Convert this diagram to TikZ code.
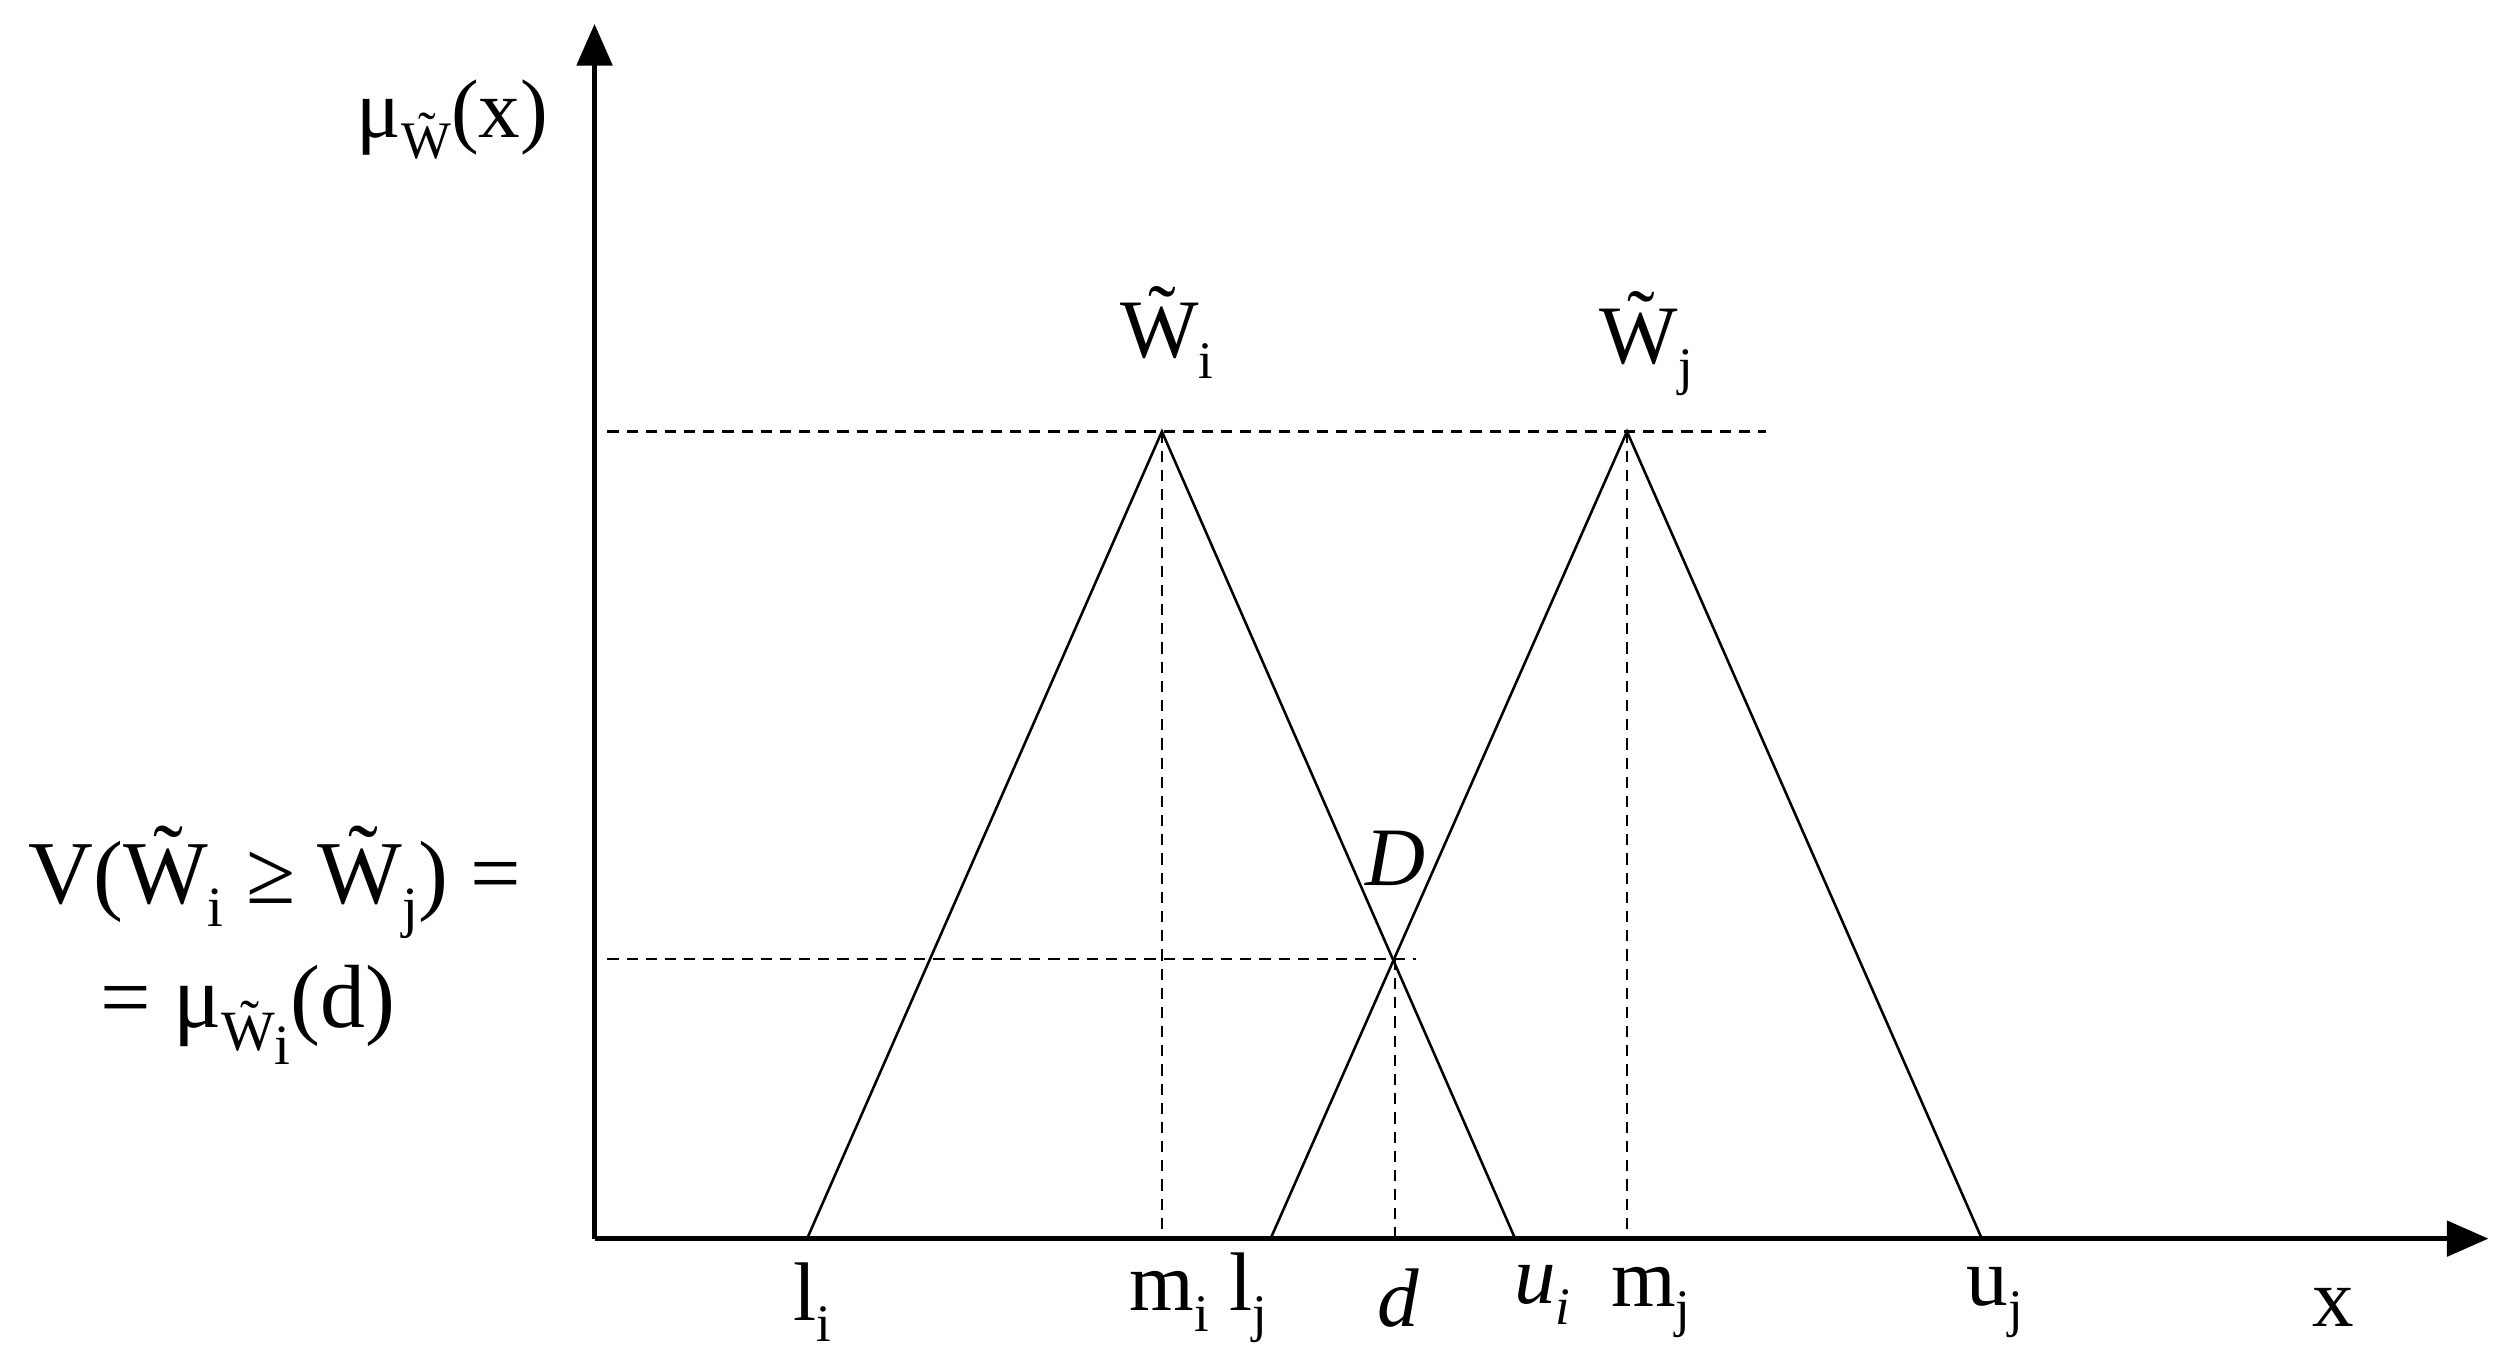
\documentclass[tikz,border=0pt]{standalone}
\usepackage{fontspec}
\setmainfont{Liberation Serif}
\usetikzlibrary{arrows.meta}
\newcommand{\Wt}{\~{W}}
\newcommand{\sbs}[1]{\raisebox{-0.25em}{\fontsize{33}{37}\selectfont #1}}
\begin{document}
\begin{tikzpicture}[x=1pt,y=-1pt,
  lab/.style={font=\fontsize{52}{60}\selectfont, inner sep=0pt},
  dsh/.style={dashed, line width=1.3pt, dash pattern=on 7pt off 5pt},
  tri/.style={line width=1.6pt},
  ax/.style={line width=3pt,-{Triangle[length=26pt,width=22pt]}}]
\useasboundingbox (0,0) rectangle (1568,858);
\coordinate (O) at (372,775);
\coordinate (Ytip) at (372,15);
\coordinate (Xtip) at (1557,775);
\draw[ax] (O) -- (Ytip);
\draw[ax] (O) -- (Xtip);
\coordinate (li) at (505,775);
\coordinate (pi) at (727,270);
\coordinate (ui) at (948,775);
\coordinate (lj) at (795,775);
\coordinate (pj) at (1018,270);
\coordinate (uj) at (1240,775);
\coordinate (D) at (873,600);
\draw[tri] (li) -- (pi) -- (ui);
\draw[tri] (lj) -- (pj) -- (uj);
\coordinate (h1s) at (380,270); \coordinate (h1e) at (1105,270);
\coordinate (h2s) at (380,600); \coordinate (h2e) at (886,600);
\draw[dsh] (h1s) -- (h1e);
\draw[dsh] (h2s) -- (h2e);
\draw[dsh] (pi) -- (727,775);
\draw[dsh] (pj) -- (1018,775);
\draw[dsh] (D) -- (873,775);
\node[lab] (ylab) at (283,75) {μ\sbs{\Wt}(x)};
\node[lab] (wi) at (730,208) {\Wt\sbs{i}};
\node[lab] (wj) at (1030,215) {\Wt\sbs{j}};
\node[lab] (Dl) at (873,537) {\itshape D};
\node[lab,scale=1.08] (v1) at (172,552) {V(\Wt\sbs{i} ≥ \Wt\sbs{j}) =};
\node[lab,scale=1.08] (v2) at (155,635) {= μ\sbs{\Wt\sbs{i}}(d)};
\node[lab] (t1) at (508,815) {l\sbs{i}};
\node[lab] (t2) at (750,812) {m\sbs{i} l\sbs{j}};
\node[lab] (t3) at (875,812) {\itshape d};
\node[lab] (t4) at (965,810) {\itshape u\sbs{i}};
\node[lab] (t5) at (1033,815) {m\sbs{j}};
\node[lab] (t6) at (1248,815) {u\sbs{j}};
\node[lab] (t7) at (1460,818) {x};
\end{tikzpicture}
\end{document}
